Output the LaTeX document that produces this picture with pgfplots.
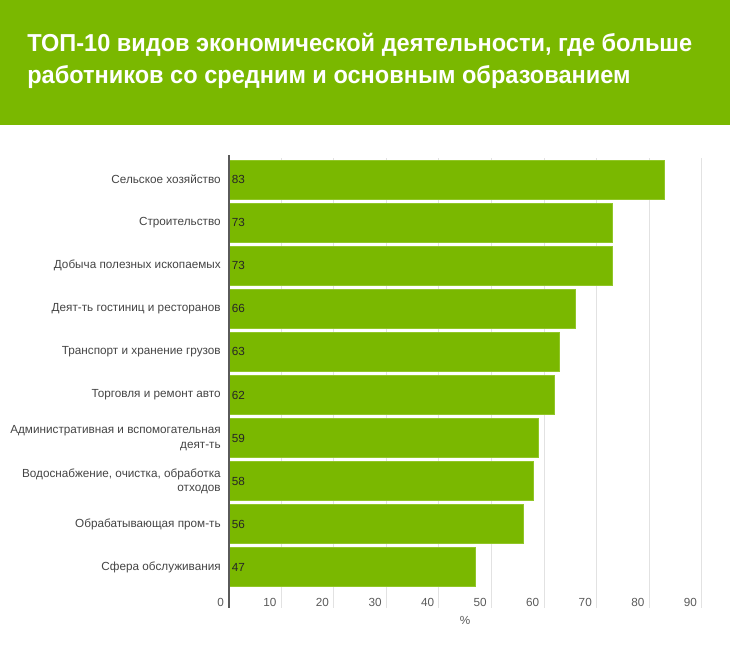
\documentclass[border=0pt]{standalone}
\usepackage{pgfplots}
\pgfplotsset{compat=1.18}
\usepackage{pgfplotstable}
\usepackage{fontspec}
\setmainfont{Liberation Sans}
\newfontfamily\titlefont[FakeStretch=0.96]{Liberation Sans}
\definecolor{bargreen}{RGB}{122,184,0}
\definecolor{barborder}{RGB}{145,198,40}
\definecolor{labgray}{RGB}{68,68,68}
\definecolor{gridgray}{RGB}{226,226,226}
\definecolor{axisgray}{RGB}{90,90,90}

\pgfplotstableread{
idx base val
0 0 83
1 0 73
2 0 73
3 0 66
4 0 63
5 0 62
6 0 59
7 0 58
8 0 56
9 0 47
}\datatable

\begin{document}
\begin{tikzpicture}
\useasboundingbox (0,0) rectangle (547.5pt,-489pt);
\fill[bargreen] (0,0) rectangle (547.5pt,-125*0.75pt);
\node[anchor=base west, inner sep=0pt, text=white,
  font=\titlefont\bfseries\fontsize{18.4pt}{24pt}\selectfont]
  at (27*0.75pt,-52*0.75pt) {ТОП-10 видов экономической деятельности, где больше};
\node[anchor=base west, inner sep=0pt, text=white,
  font=\titlefont\bfseries\fontsize{18.4pt}{24pt}\selectfont]
  at (27*0.75pt,-84*0.75pt) {работников со средним и основным образованием};
\begin{axis}[
  at={(228.7*0.75pt,-589*0.75pt)}, anchor=south west,
  scale only axis, width=354.75pt, height=323.25pt,
  xmin=0, xmax=90, ymin=-0.5, ymax=9.5, y dir=reverse,
  /pgf/number format/assume math mode=true,
  xtick={0,10,...,90}, ytick={0,...,9},
  yticklabels={Сельское хозяйство, Строительство, Добыча полезных ископаемых,
    Деят-ть гостиниц и ресторанов, Транспорт и хранение грузов, Торговля и ремонт авто,
    {Административная и вспомогательная\\деят-ть}, {Водоснабжение, очистка, обработка\\отходов},
    Обрабатывающая пром-ть, Сфера обслуживания},
  axis line style={draw=none},
  xmajorgrids, grid style={gridgray, line width=0.75pt},
  xtick align=outside, ytick align=inside,
  xtick pos=lower, ytick pos=left,
  major tick length=14.25pt,
  xtick style={gridgray, line width=0.75pt},
  ytick style={draw=none},
  tick label style={font=\fontsize{8.8pt}{11pt}\selectfont},
  xticklabel style={text=axisgray, anchor=east, inner sep=0pt, xshift=-3.4pt, yshift=4.5pt},
  yticklabel style={text=labgray, align=right, inner sep=0pt, xshift=-5.8pt},
  xlabel={\%}, xlabel style={at={(axis description cs:0.5,0)}, anchor=center, yshift=-23.25pt,
    font=\fontsize{8.8pt}{11pt}\selectfont, text=axisgray},
  bar width=29.25pt,
  clip=false,
]
\addplot[xbar, fill=bargreen, draw=barborder, line width=0.75pt] table[x=val, y=idx] {\datatable};
\addplot[draw=none, mark=none, nodes near coords, point meta=explicit,
  every node near coord/.append style={anchor=west, inner sep=0pt, xshift=2.2pt,
    font=\fontsize{8.8pt}{11pt}\selectfont, text=black!85}]
  table[x=base, y=idx, meta=val] {\datatable};
\draw[axisgray, line width=1.4pt] ([yshift=2pt]axis cs:0,-0.5) -- ([yshift=-14.25pt]axis cs:0,9.5);
\end{axis}
\end{tikzpicture}
\end{document}
